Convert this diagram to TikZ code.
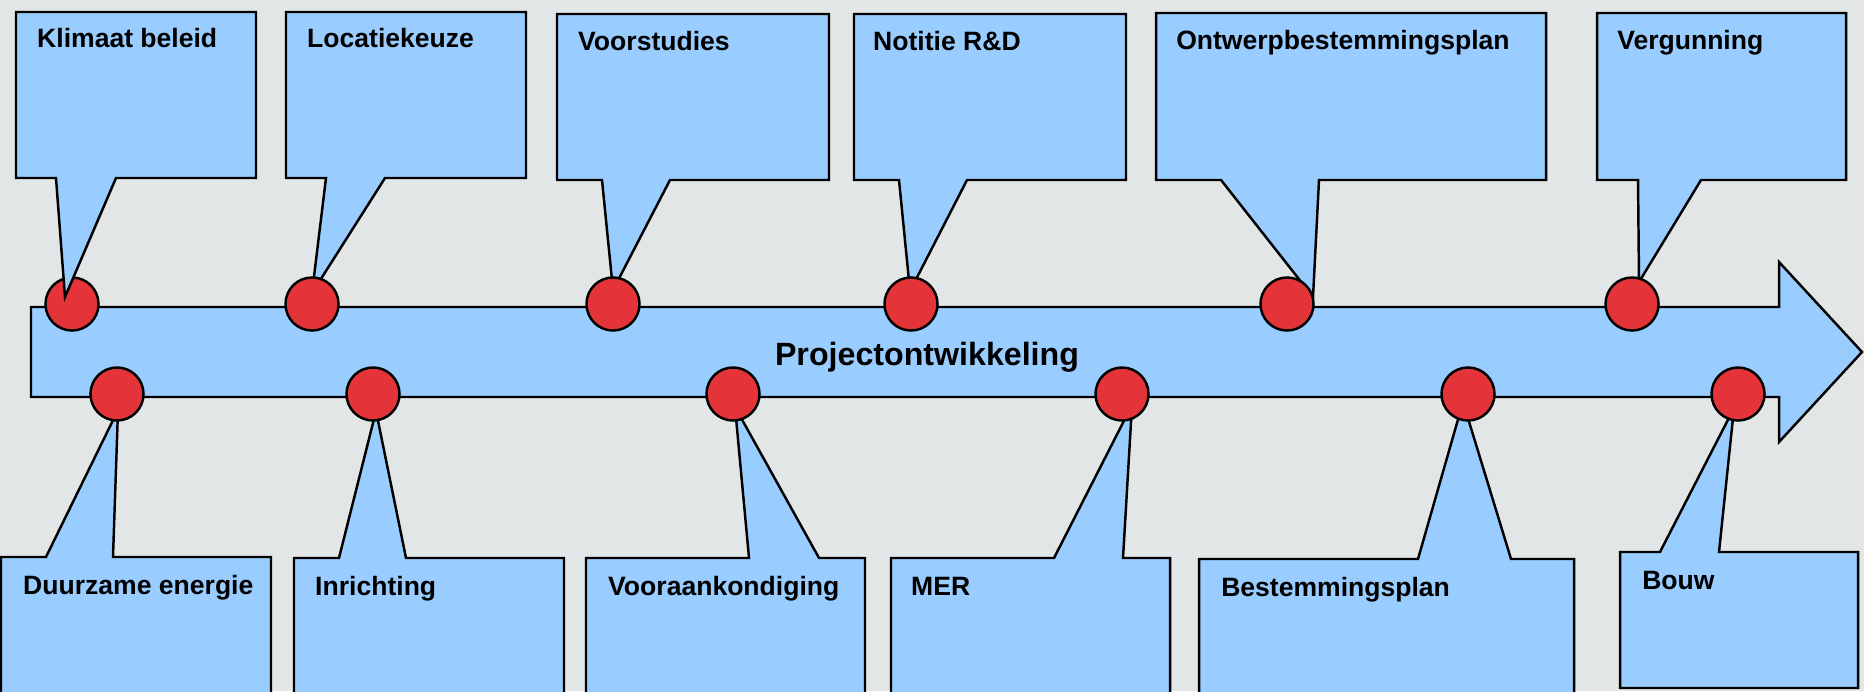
\documentclass[tikz,border=0pt]{standalone}
\usepackage{fontspec}
\setmainfont{Liberation Sans}
\definecolor{bggray}{RGB}{227,230,230}
\definecolor{skyblue}{RGB}{153,204,255}
\definecolor{dotred}{RGB}{229,51,58}
\begin{document}
\begin{tikzpicture}[x=0.01cm, y=-0.01cm, line width=0.7pt,
    bubble/.style={draw=black, fill=skyblue, line join=miter},
    tag/.style={anchor=base west, inner sep=0pt, font=\fontsize{7.55}{9}\selectfont\bfseries}]
    \clip (0,0) rectangle (1864,691);
    \fill[bggray] (0,0) rectangle (1864,691);

    % timeline arrow
    \draw[bubble] (31,307) -- (1779,307) -- (1779,262) -- (1862,352) -- (1779,442) -- (1779,397) -- (31,397) -- cycle;
    \node[anchor=base, inner sep=0pt, font=\fontsize{9.15}{11}\selectfont\bfseries] (title) at (927,365) {Projectontwikkeling};

    % callouts above
    \draw[bubble] (286,12) -- (526,12) -- (526,178) -- (385,178) -- (312,293) -- (326,178) -- (286,178) -- cycle;
    \draw[bubble] (557,14) -- (829,14) -- (829,180) -- (670,180) -- (613,290) -- (602,180) -- (557,180) -- cycle;
    \draw[bubble] (854,14) -- (1126,14) -- (1126,180) -- (967,180) -- (910,291) -- (899,180) -- (854,180) -- cycle;
    \draw[bubble] (1156,13) -- (1546,13) -- (1546,180) -- (1319,180) -- (1313,297) -- (1221,180) -- (1156,180) -- cycle;
    \draw[bubble] (1597,13) -- (1846,13) -- (1846,180) -- (1701,180) -- (1639,282) -- (1638,180) -- (1597,180) -- cycle;

    % callouts below
    \draw[bubble] (1,557) -- (46,557) -- (118,410) -- (113,557) -- (271,557) -- (271,720) -- (1,720) -- cycle;
    \draw[bubble] (294,558) -- (339,558) -- (376,411) -- (406,558) -- (564,558) -- (564,720) -- (294,720) -- cycle;
    \draw[bubble] (586,558) -- (749,558) -- (735,407) -- (819,558) -- (865,558) -- (865,720) -- (586,720) -- cycle;
    \draw[bubble] (891,558) -- (1054,558) -- (1132,405) -- (1123,558) -- (1170,558) -- (1170,720) -- (891,720) -- cycle;
    \draw[bubble] (1199,559) -- (1418,559) -- (1463,402) -- (1511,559) -- (1574,559) -- (1574,720) -- (1199,720) -- cycle;
    \draw[bubble] (1620,552) -- (1660,552) -- (1734,408) -- (1719,552) -- (1858,552) -- (1858,688) -- (1620,688) -- cycle;

    % milestones
    \begin{scope}[every node/.style={circle, draw=black, fill=dotred, minimum size=0.53cm, inner sep=0pt}]
        \node (t1) at (72,304) {};
        \node (t2) at (312,304) {};
        \node (t3) at (613,304) {};
        \node (t4) at (911,304) {};
        \node (t5) at (1287,304) {};
        \node (t6) at (1632,304) {};

        \node (b1) at (117,394) {};
        \node (b2) at (373,394) {};
        \node (b3) at (733,394) {};
        \node (b4) at (1122,394) {};
        \node (b5) at (1468,394) {};
        \node (b6) at (1738,394) {};
    \end{scope}

    % first callout lies over its dot
    \draw[bubble] (16,12) -- (256,12) -- (256,178) -- (116,178) -- (65,297) -- (56,178) -- (16,178) -- cycle;

    % labels
    \node[tag] (klimaat) at (36,48) {Klimaat beleid};
    \node[tag] (locatie) at (306,48) {Locatiekeuze};
    \node[tag] (voorst) at (577,51) {Voorstudies};
    \node[tag] (notitie) at (872,51) {Notitie R\&D};
    \node[tag] (ontwerp) at (1175,50) {Ontwerpbestemmingsplan};
    \node[tag] (vergun) at (1616,50) {Vergunning};

    \node[tag] (duurz) at (22,594) {Duurzame energie};
    \node[tag] (inricht) at (314,595) {Inrichting};
    \node[tag] (vooraank) at (607,595) {Vooraankondiging};
    \node[tag] (mer) at (910,595) {MER};
    \node[tag] (bestem) at (1220,596) {Bestemmingsplan};
    \node[tag] (bouw) at (1641,589) {Bouw};
\end{tikzpicture}
\end{document}
